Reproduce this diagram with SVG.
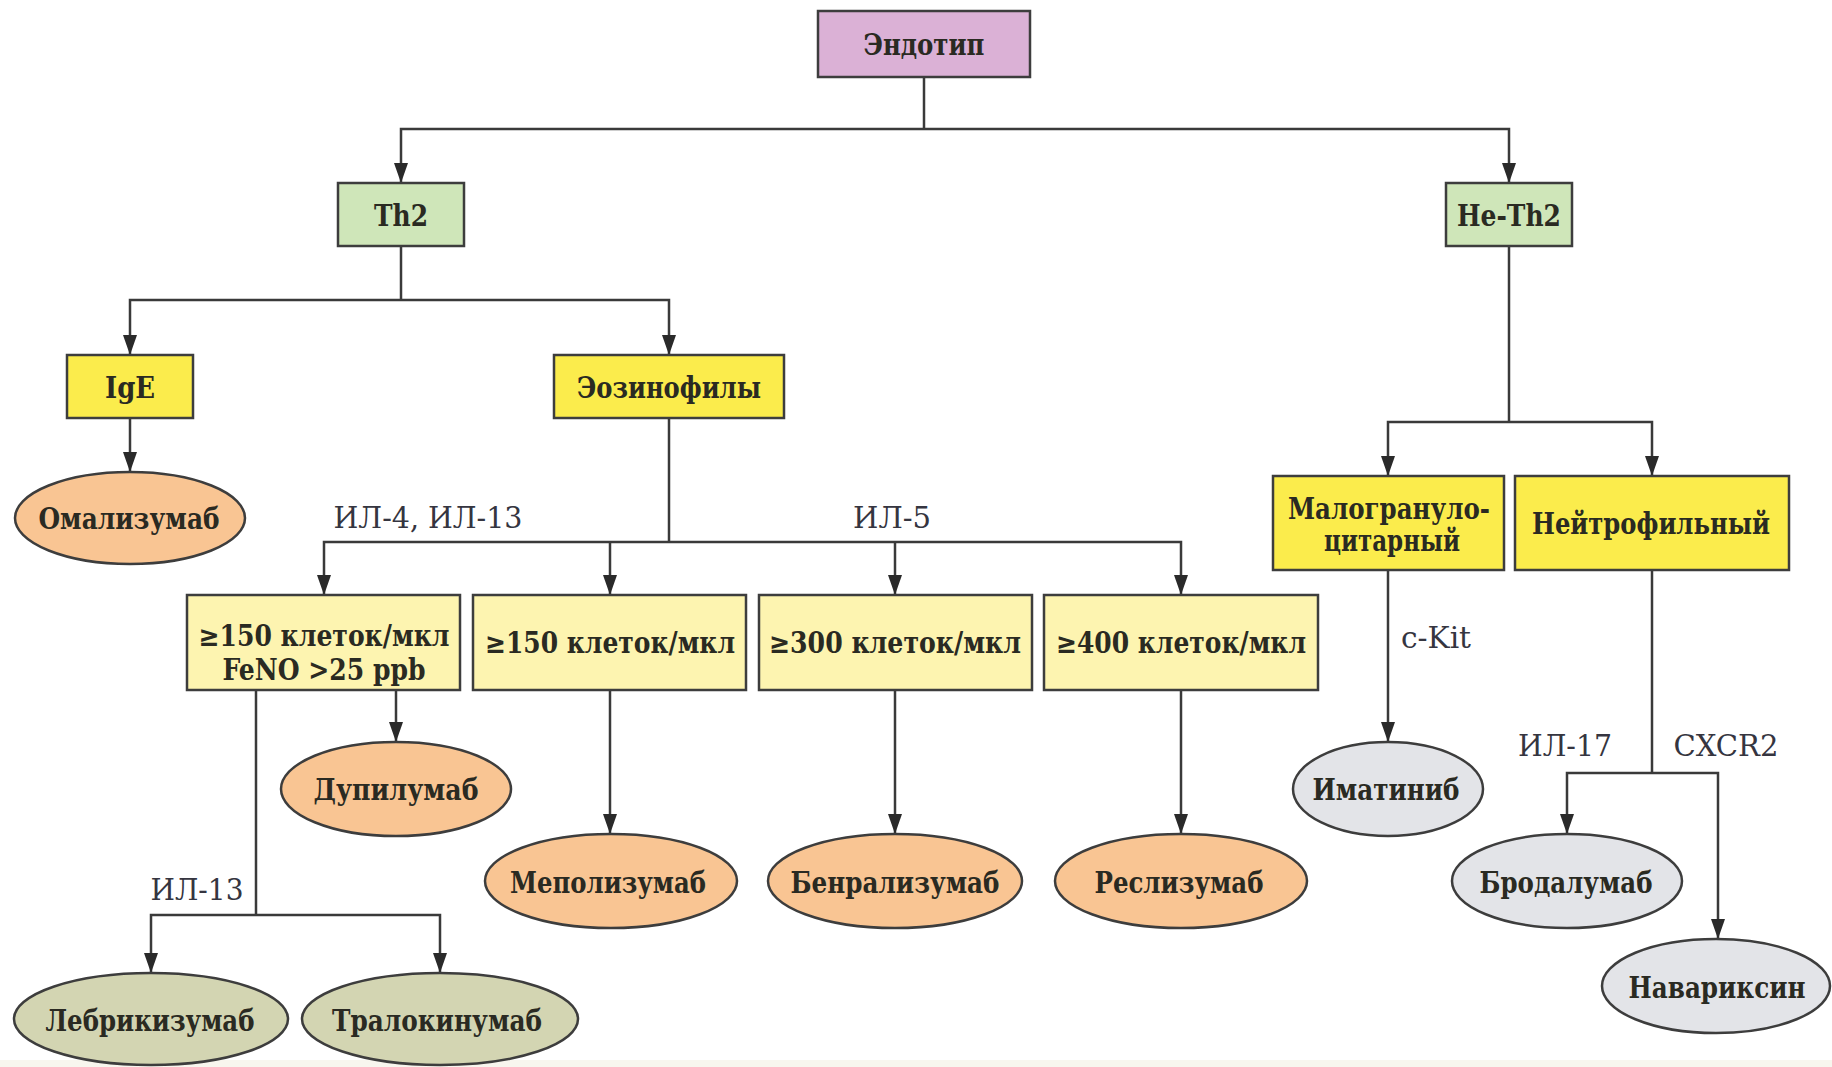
<svg xmlns="http://www.w3.org/2000/svg" width="1832" height="1067" viewBox="0 0 1832 1067">
<defs>
<style>
.box{stroke:#3d3d3d;stroke-width:2.5}
.ell{stroke:#3d3d3d;stroke-width:2.5}
.pink{fill:#dbb1d6}
.green{fill:#cfe6b9}
.yel{fill:#fbec4c}
.ly{fill:#fdf4b0}
.or{fill:#f9c593}
.ol{fill:#d3d5b2}
.gr{fill:#e3e4e8}
.t{font-family:"DejaVu Serif Condensed","DejaVu Serif",serif;font-stretch:condensed;font-weight:bold;font-size:29px;fill:#2a2a22;text-anchor:middle}
.lb{font-family:"DejaVu Serif Condensed","DejaVu Serif",serif;font-stretch:condensed;font-weight:normal;font-size:29px;fill:#353540;text-anchor:middle}
.c{fill:none;stroke:#3a3a3a;stroke-width:2.5}
</style>
<marker id="ah" markerUnits="userSpaceOnUse" markerWidth="20" markerHeight="14" refX="20" refY="7" orient="auto">
<path d="M0,0 L20,7 L0,14 z" fill="#2a2a2a"/>
</marker>
</defs>
<rect x="0" y="0" width="1832" height="1067" fill="#ffffff"/>
<rect x="0" y="1060" width="1832" height="7" fill="#f8f6ee"/>

<g id="connectors">
<path class="c" d="M924,77 V129"/>
<path class="c" d="M924,129 H401 V183" marker-end="url(#ah)"/>
<path class="c" d="M924,129 H1509 V183" marker-end="url(#ah)"/>
<path class="c" d="M401,246 V300"/>
<path class="c" d="M401,300 H130 V355" marker-end="url(#ah)"/>
<path class="c" d="M401,300 H669 V355" marker-end="url(#ah)"/>
<path class="c" d="M130,418 V472" marker-end="url(#ah)"/>
<path class="c" d="M669,418 V542"/>
<path class="c" d="M669,542 H324 V595" marker-end="url(#ah)"/>
<path class="c" d="M610,542 V595" marker-end="url(#ah)"/>
<path class="c" d="M669,542 H1181 V595" marker-end="url(#ah)"/>
<path class="c" d="M895,542 V595" marker-end="url(#ah)"/>
<path class="c" d="M396,690 V742" marker-end="url(#ah)"/>
<path class="c" d="M256,690 V915"/>
<path class="c" d="M256,915 H151 V973" marker-end="url(#ah)"/>
<path class="c" d="M256,915 H440 V973" marker-end="url(#ah)"/>
<path class="c" d="M610,690 V834" marker-end="url(#ah)"/>
<path class="c" d="M895,690 V834" marker-end="url(#ah)"/>
<path class="c" d="M1181,690 V834" marker-end="url(#ah)"/>
<path class="c" d="M1509,246 V422"/>
<path class="c" d="M1509,422 H1388 V476" marker-end="url(#ah)"/>
<path class="c" d="M1509,422 H1652 V476" marker-end="url(#ah)"/>
<path class="c" d="M1388,570 V742" marker-end="url(#ah)"/>
<path class="c" d="M1652,570 V773"/>
<path class="c" d="M1652,773 H1567 V834" marker-end="url(#ah)"/>
<path class="c" d="M1652,773 H1718 V939" marker-end="url(#ah)"/>
<text class="lb" x="428" y="528" textLength="189" lengthAdjust="spacingAndGlyphs">ИЛ-4, ИЛ-13</text>
<text class="lb" x="892" y="528" textLength="78" lengthAdjust="spacingAndGlyphs">ИЛ-5</text>
<text class="lb" x="197" y="900" textLength="93" lengthAdjust="spacingAndGlyphs">ИЛ-13</text>
<text class="lb" x="1436" y="648" textLength="70" lengthAdjust="spacingAndGlyphs">c-Kit</text>
<text class="lb" x="1565" y="756" textLength="94" lengthAdjust="spacingAndGlyphs">ИЛ-17</text>
<text class="lb" x="1726" y="756" textLength="105" lengthAdjust="spacingAndGlyphs">CXCR2</text>
</g>

<g id="endotype">
<rect class="box pink" x="818" y="11" width="212" height="66"/>
<text class="t" x="924" y="55" textLength="121" lengthAdjust="spacingAndGlyphs">Эндотип</text>
</g>
<g id="th2">
<rect class="box green" x="338" y="183" width="126" height="63"/>
<text class="t" x="401" y="226" textLength="54" lengthAdjust="spacingAndGlyphs">Th2</text>
</g>
<g id="non-th2">
<rect class="box green" x="1446" y="183" width="126" height="63"/>
<text class="t" x="1509" y="226" textLength="104" lengthAdjust="spacingAndGlyphs">Не-Th2</text>
</g>
<g id="ige">
<rect class="box yel" x="67" y="355" width="126" height="63"/>
<text class="t" x="130" y="398" textLength="50" lengthAdjust="spacingAndGlyphs">IgE</text>
</g>
<g id="eos">
<rect class="box yel" x="554" y="355" width="230" height="63"/>
<text class="t" x="669" y="398" textLength="184" lengthAdjust="spacingAndGlyphs">Эозинофилы</text>
</g>
<g id="omalizumab">
<ellipse class="ell or" cx="130" cy="518" rx="115" ry="46"/>
<text class="t" x="129" y="529" textLength="181" lengthAdjust="spacingAndGlyphs">Омализумаб</text>
</g>
<g id="eos150feno">
<rect class="box ly" x="187" y="595" width="273" height="95"/>
<text class="t" x="324" y="646" textLength="251" lengthAdjust="spacingAndGlyphs">≥150 клеток/мкл</text>
<text class="t" x="324" y="680" textLength="203" lengthAdjust="spacingAndGlyphs">FeNO &gt;25 ppb</text>
</g>
<g id="eos150">
<rect class="box ly" x="473" y="595" width="273" height="95"/>
<text class="t" x="610" y="653" textLength="250" lengthAdjust="spacingAndGlyphs">≥150 клеток/мкл</text>
</g>
<g id="eos300">
<rect class="box ly" x="759" y="595" width="273" height="95"/>
<text class="t" x="895" y="653" textLength="252" lengthAdjust="spacingAndGlyphs">≥300 клеток/мкл</text>
</g>
<g id="eos400">
<rect class="box ly" x="1044" y="595" width="274" height="95"/>
<text class="t" x="1181" y="653" textLength="250" lengthAdjust="spacingAndGlyphs">≥400 клеток/мкл</text>
</g>
<g id="dupilumab">
<ellipse class="ell or" cx="396" cy="789" rx="115" ry="47"/>
<text class="t" x="396" y="800" textLength="165" lengthAdjust="spacingAndGlyphs">Дупилумаб</text>
</g>
<g id="mepolizumab">
<ellipse class="ell or" cx="611" cy="881" rx="126" ry="47"/>
<text class="t" x="608" y="893" textLength="196" lengthAdjust="spacingAndGlyphs">Меполизумаб</text>
</g>
<g id="benralizumab">
<ellipse class="ell or" cx="895" cy="881" rx="127" ry="47"/>
<text class="t" x="895" y="893" textLength="209" lengthAdjust="spacingAndGlyphs">Бенрализумаб</text>
</g>
<g id="reslizumab">
<ellipse class="ell or" cx="1181" cy="881" rx="126" ry="47"/>
<text class="t" x="1179" y="893" textLength="169" lengthAdjust="spacingAndGlyphs">Реслизумаб</text>
</g>
<g id="lebrikizumab">
<ellipse class="ell ol" cx="151" cy="1019" rx="137" ry="46"/>
<text class="t" x="150" y="1031" textLength="209" lengthAdjust="spacingAndGlyphs">Лебрикизумаб</text>
</g>
<g id="tralokinumab">
<ellipse class="ell ol" cx="440" cy="1019" rx="138" ry="46"/>
<text class="t" x="437" y="1031" textLength="210" lengthAdjust="spacingAndGlyphs">Тралокинумаб</text>
</g>
<g id="paucigranulocytic">
<rect class="box yel" x="1273" y="476" width="231" height="94"/>
<text class="t" x="1389" y="519" textLength="202" lengthAdjust="spacingAndGlyphs">Малогрануло-</text>
<text class="t" x="1392" y="551" textLength="136" lengthAdjust="spacingAndGlyphs">цитарный</text>
</g>
<g id="neutrophilic">
<rect class="box yel" x="1515" y="476" width="274" height="94"/>
<text class="t" x="1651" y="534" textLength="238" lengthAdjust="spacingAndGlyphs">Нейтрофильный</text>
</g>
<g id="imatinib">
<ellipse class="ell gr" cx="1388" cy="789" rx="95" ry="47"/>
<text class="t" x="1386" y="800" textLength="147" lengthAdjust="spacingAndGlyphs">Иматиниб</text>
</g>
<g id="brodalumab">
<ellipse class="ell gr" cx="1567" cy="881" rx="115" ry="47"/>
<text class="t" x="1566" y="893" textLength="173" lengthAdjust="spacingAndGlyphs">Бродалумаб</text>
</g>
<g id="navarixin">
<ellipse class="ell gr" cx="1716" cy="986" rx="114" ry="47"/>
<text class="t" x="1717" y="998" textLength="177" lengthAdjust="spacingAndGlyphs">Навариксин</text>
</g>
</svg>
